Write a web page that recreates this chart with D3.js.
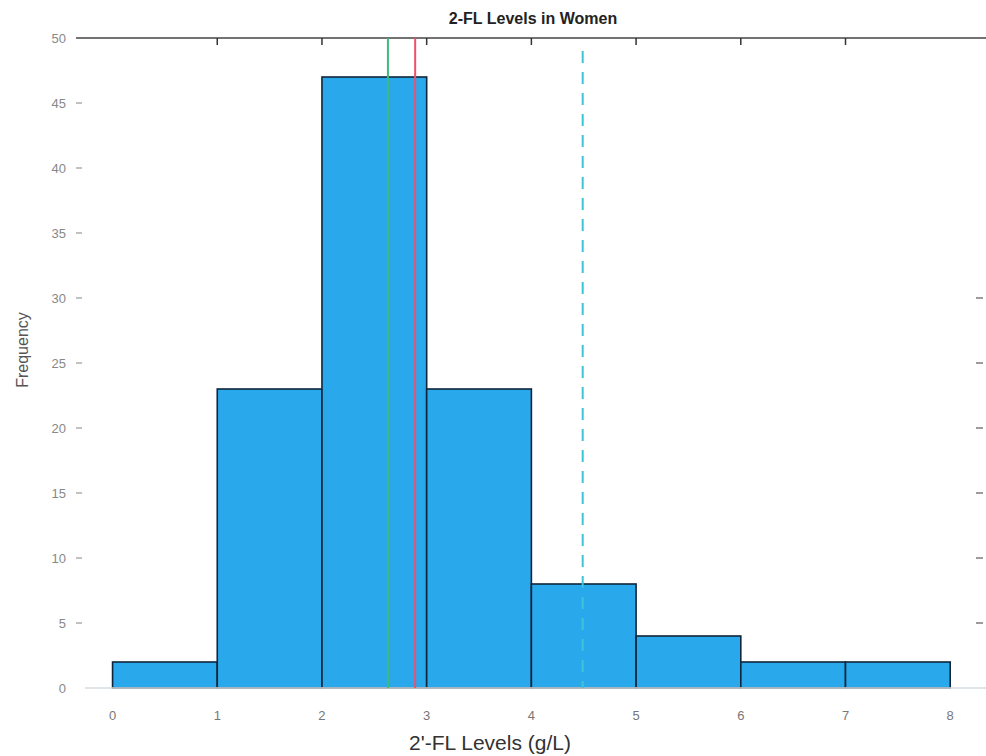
<!DOCTYPE html>
<html>
<head>
<meta charset="utf-8">
<script src="https://cdn.jsdelivr.net/npm/d3@7"></script>
<style>
  body { margin: 0; background: #fff; }
  svg { display: block; }
</style>
</head>
<body>
<svg></svg>
<script>
// histogram bins (g/L) and counts
var binStarts = [0, 1, 2, 3, 4, 5, 6, 7];
var binWidth = 1;
var counts = [2, 23, 47, 23, 8, 4, 2, 2];

var xTicks = [0, 1, 2, 3, 4, 5, 6, 7, 8];
var yTicks = [0, 5, 10, 15, 20, 25, 30, 35, 40, 45, 50];

// reference lines: median, mean, dashed upper line
var refNames = ["median", "mean", "upper"];
var refValues = [2.63, 2.89, 4.49];
var refColors = ["#3dbb7a", "#f0506e", "#3cc4d8"];
var refDash = [null, null, "12,9"];

var svgWidth = 986;
var svgHeight = 756;

var svg = d3.select("svg")
    .attr("width", svgWidth)
    .attr("height", svgHeight)
    .style("font-family", "'Liberation Sans', Arial, sans-serif");

var x = d3.scaleLinear().domain([-0.33, 8.38]).range([78, 990]);
var y = d3.scaleLinear().domain([0, 50]).range([688, 38]);

// bars
svg.selectAll("rect.bar")
    .data(counts)
    .enter()
    .append("rect")
    .attr("class", "bar")
    .attr("x", function(d, i) { return x(binStarts[i]); })
    .attr("y", function(d) { return y(d); })
    .attr("width", function(d, i) { return x(binStarts[i] + binWidth) - x(binStarts[i]); })
    .attr("height", function(d) { return y(0) - y(d); })
    .attr("fill", "#2aa8ec")
    .attr("stroke", "#10253a")
    .attr("stroke-width", 1.6);

// bottom axis line (faint) and top box line
svg.append("line")
    .attr("x1", 85).attr("x2", 990)
    .attr("y1", y(0)).attr("y2", y(0))
    .attr("stroke", "#d4dce2").attr("stroke-width", 1.5);

svg.append("line")
    .attr("x1", 76).attr("x2", 990)
    .attr("y1", y(50)).attr("y2", y(50))
    .attr("stroke", "#444").attr("stroke-width", 1.3);

// top ticks
svg.selectAll("line.ttick")
    .data(xTicks.slice(1, 8))
    .enter()
    .append("line")
    .attr("class", "ttick")
    .attr("x1", function(d) { return x(d); })
    .attr("x2", function(d) { return x(d); })
    .attr("y1", y(50)).attr("y2", y(50) + 7)
    .attr("stroke", "#333").attr("stroke-width", 1.5);

// right ticks
svg.selectAll("line.rtick")
    .data(yTicks.slice(1, 7))
    .enter()
    .append("line")
    .attr("class", "rtick")
    .attr("x1", 976).attr("x2", 983)
    .attr("y1", function(d) { return y(d); })
    .attr("y2", function(d) { return y(d); })
    .attr("stroke", "#666").attr("stroke-width", 1.3);

// reference lines
svg.selectAll("line.ref")
    .data(refValues)
    .enter()
    .append("line")
    .attr("class", "ref")
    .attr("x1", function(d) { return x(d); })
    .attr("x2", function(d) { return x(d); })
    .attr("y1", function(d, i) { return i == 2 ? y(49) : y(50); })
    .attr("y2", y(0))
    .attr("stroke", function(d, i) { return refColors[i]; })
    .attr("stroke-width", 2)
    .attr("stroke-dasharray", function(d, i) { return refDash[i]; });

// x tick labels
svg.selectAll("text.xlab")
    .data(xTicks)
    .enter()
    .append("text")
    .attr("class", "xlab")
    .attr("x", function(d) { return x(d); })
    .attr("y", 720)
    .attr("text-anchor", "middle")
    .attr("font-size", 13)
    .attr("fill", "#777")
    .text(function(d) { return d; });

// y tick labels + small dashes
svg.selectAll("text.ylab")
    .data(yTicks)
    .enter()
    .append("text")
    .attr("class", "ylab")
    .attr("x", 66)
    .attr("y", function(d) { return y(d) + 5; })
    .attr("text-anchor", "end")
    .attr("font-size", 13)
    .attr("fill", "#888")
    .text(function(d) { return d; });

svg.selectAll("line.ltick")
    .data(yTicks.slice(1, 10))
    .enter()
    .append("line")
    .attr("class", "ltick")
    .attr("x1", 76).attr("x2", 82)
    .attr("y1", function(d) { return y(d); })
    .attr("y2", function(d) { return y(d); })
    .attr("stroke", "#999").attr("stroke-width", 1.2);

// title and axis labels
svg.append("text")
    .attr("x", 533).attr("y", 24)
    .attr("text-anchor", "middle")
    .attr("font-size", 16)
    .attr("font-weight", "bold")
    .attr("fill", "#222")
    .text("2-FL Levels in Women");

svg.append("text")
    .attr("x", 490).attr("y", 750)
    .attr("text-anchor", "middle")
    .attr("font-size", 21)
    .attr("fill", "#333")
    .text("2'-FL Levels (g/L)");

svg.append("text")
    .attr("transform", "translate(28,350) rotate(-90)")
    .attr("text-anchor", "middle")
    .attr("font-size", 16)
    .attr("fill", "#555")
    .text("Frequency");
</script>
</body>
</html>
